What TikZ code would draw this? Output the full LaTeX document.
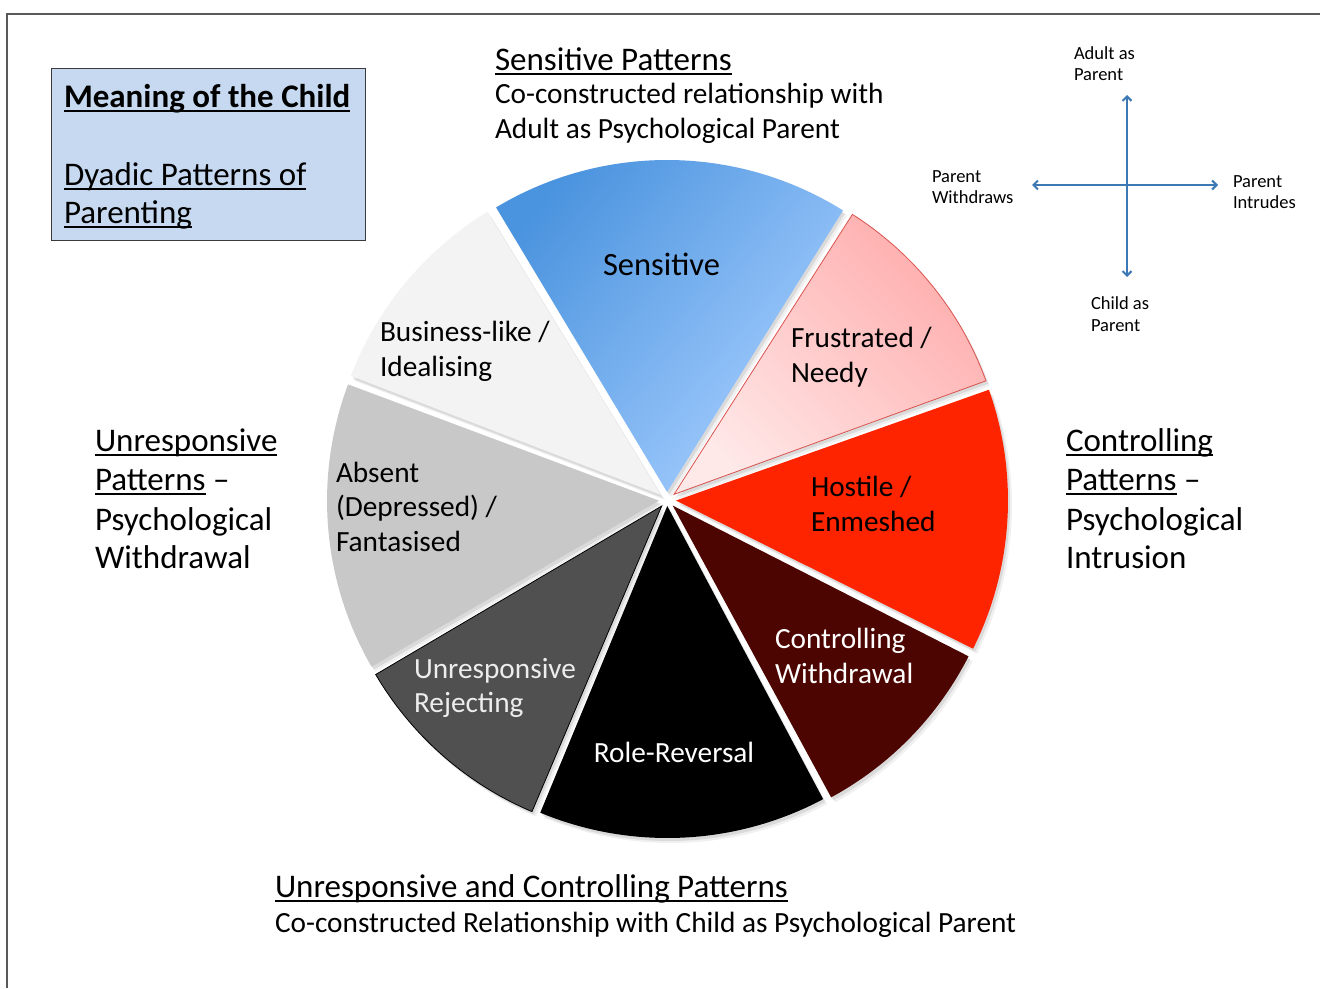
\documentclass[tikz,border=0pt]{standalone}
\usepackage{fontspec}
\setmainfont{Carlito}
\usetikzlibrary{arrows.meta}
\definecolor{framec}{HTML}{595959}
\definecolor{boxfill}{HTML}{C6D9F0}
\definecolor{boxline}{HTML}{3A3A3A}
\definecolor{blueD}{HTML}{4A93DE}
\definecolor{blueL}{HTML}{A6CEFF}
\definecolor{pinkD}{HTML}{FFADAD}
\definecolor{pinkL}{HTML}{FFE8E8}
\definecolor{pinkE}{HTML}{D9534F}
\definecolor{hostile}{HTML}{FF2400}
\definecolor{ctrlw}{HTML}{4C0500}
\definecolor{unresp}{HTML}{505050}
\definecolor{absent}{HTML}{C8C8C8}
\definecolor{business}{HTML}{F3F3F3}
\definecolor{axisc}{HTML}{3C78B4}
\newsavebox\ulbox
\newcommand\myul[1]{\sbox\ulbox{#1}\rlap{\rule[-5pt]{\wd\ulbox}{2pt}}\usebox\ulbox}
\newcommand\fs[2]{\fontsize{#1}{#2}\selectfont}
\newcommand\myslice[4]{%
  \pgfmathsetmacro\midang{(#1+#2)/2}%
  \path[#4, shift={(\midang:#3)}] (0,0) -- (#1:332pt) arc[start angle=#1,end angle=#2,radius=332pt] -- cycle;}
\newcommand\allslices[1]{%
  \myslice{20}{57.5}{9pt}{#1}
  \myslice{58}{121}{8pt}{#1}
  \myslice{121.5}{159}{8pt}{#1}
  \myslice{159.5}{210}{8pt}{#1}
  \myslice{210.5}{247}{8pt}{#1}
  \myslice{247.5}{298}{6pt}{#1}
  \myslice{298.5}{333}{8pt}{#1}
  \myslice{333.5}{379.5}{9pt}{#1}}
\begin{document}
\begin{tikzpicture}[x=1pt,y=-1pt,
  txt/.style={anchor=mid west, inner sep=0pt, outer sep=0pt},
  axislbl/.style={txt, font=\fs{18.5}{21}, yshift=-5.5pt},
  sidelbl/.style={txt, font=\fs{33}{39}, yshift=-10pt},
  headbig/.style={txt, font=\fs{33}{39}, yshift=-10pt},
  headlbl/.style={txt, font=\fs{29.3}{35}, yshift=-9.5pt},
  slicelbl/.style={txt, font=\fs{29.3}{35}, yshift=-9.5pt},
  axisarrow/.style={draw=axisc, line width=2pt, {Straight Barb[length=4.5pt,width=9pt]}-{Straight Barb[length=4.5pt,width=9pt]}}]
\useasboundingbox (0,0) rectangle (1320,988);
\fill[white] (0,0) rectangle (1320,988);
\draw[framec, line width=1.5pt] (7,988) -- (7,14) -- (1320,14);

% title box
\draw[fill=boxfill, draw=boxline, line width=1pt] (51,68) rectangle (365,240);
\node[headbig, font=\fs{33}{39}\bfseries] (t1) at (64,95) {\myul{Meaning of the Child}};
\node[headbig] (t2) at (64,173) {\myul{Dyadic Patterns of}};
\node[headbig] (t3) at (64,211) {\myul{Parenting}};

% pie
\begin{scope}[shift={(667pt,-500pt)}]
  \begin{scope}[xshift=2pt,yshift=-3pt]\allslices{fill=black, opacity=.09}\end{scope}
  \begin{scope}[xshift=4pt,yshift=-5pt]\allslices{fill=black, opacity=.06}\end{scope}
  \myslice{20}{57.5}{9pt}{top color=pinkD, bottom color=pinkL, shading angle=-45, draw=pinkE, line width=0.8pt}
  \myslice{58}{121}{8pt}{top color=blueD, bottom color=blueL, shading angle=50}
  \myslice{121.5}{159}{8pt}{fill=business}
  \myslice{159.5}{210}{8pt}{fill=absent}
  \myslice{210.5}{247}{8pt}{fill=unresp, draw=black, line width=0.8pt}
  \myslice{247.5}{298}{6pt}{fill=black}
  \myslice{298.5}{333}{8pt}{fill=ctrlw}
  \myslice{333.5}{379.5}{9pt}{fill=hostile}
\end{scope}

% slice labels
\node[headbig, font=\fs{32.5}{39}] (sens) at (603,263) {Sensitive};
\node[slicelbl] (bus1) at (380,330) {Business-like /};
\node[slicelbl] (bus2) at (380,365) {Idealising};
\node[slicelbl] (fru1) at (791,336) {Frustrated /};
\node[slicelbl] (fru2) at (791,371) {Needy};
\node[slicelbl] (abs1) at (336,471) {Absent};
\node[slicelbl] (abs2) at (336,505) {(Depressed) /};
\node[slicelbl] (abs3) at (336,540) {Fantasised};
\node[slicelbl] (hos1) at (811,485) {Hostile /};
\node[slicelbl] (hos2) at (811,520) {Enmeshed};
\node[slicelbl, text=white] (cw1) at (775,637) {Controlling};
\node[slicelbl, text=white] (cw2) at (775,672) {Withdrawal};
\node[slicelbl, text=white!93!black] (ur1) at (414,667) {Unresponsive};
\node[slicelbl, text=white!93!black] (ur2) at (414,701) {Rejecting};
\node[slicelbl, text=white, anchor=mid] (rr) at (674,751) {Role-Reversal};

% top heading
\node[headbig] (h1) at (495,58) {\myul{Sensitive Patterns}};
\node[headlbl] (h2) at (495,92) {Co-constructed relationship with};
\node[headlbl] (h3) at (495,126.5) {Adult as Psychological Parent};

% bottom heading
\node[headbig] (b1) at (275,885) {\myul{Unresponsive and Controlling Patterns}};
\node[headlbl] (b2) at (275,921) {Co-constructed Relationship with Child as Psychological Parent};

% left side
\node[sidelbl] (l1) at (95,439) {\myul{Unresponsive}};
\node[sidelbl] (l2) at (95,478) {\myul{Patterns} --};
\node[sidelbl] (l3) at (95,518) {Psychological};
\node[sidelbl] (l4) at (95,556) {Withdrawal};

% right side
\node[sidelbl] (r1) at (1066,439) {\myul{Controlling}};
\node[sidelbl] (r2) at (1066,478) {\myul{Patterns} --};
\node[sidelbl] (r3) at (1066,518) {Psychological};
\node[sidelbl] (r4) at (1066,556) {Intrusion};

% axes
\coordinate (ax-up) at (1127,95);
\coordinate (ax-down) at (1127,277);
\coordinate (ax-left) at (1032,185);
\coordinate (ax-right) at (1218,185);
\draw[axisarrow] (ax-down) -- (ax-up);
\draw[axisarrow] (ax-left) -- (ax-right);
\node[axislbl] (a1) at (1074,52) {Adult as};
\node[axislbl] (a2) at (1074,73) {Parent};
\node[axislbl] (a3) at (932,175) {Parent};
\node[axislbl] (a4) at (932,196) {Withdraws};
\node[axislbl] (a5) at (1233,180) {Parent};
\node[axislbl] (a6) at (1233,201) {Intrudes};
\node[axislbl] (a7) at (1091,302) {Child as};
\node[axislbl] (a8) at (1091,324) {Parent};
\end{tikzpicture}
\end{document}
